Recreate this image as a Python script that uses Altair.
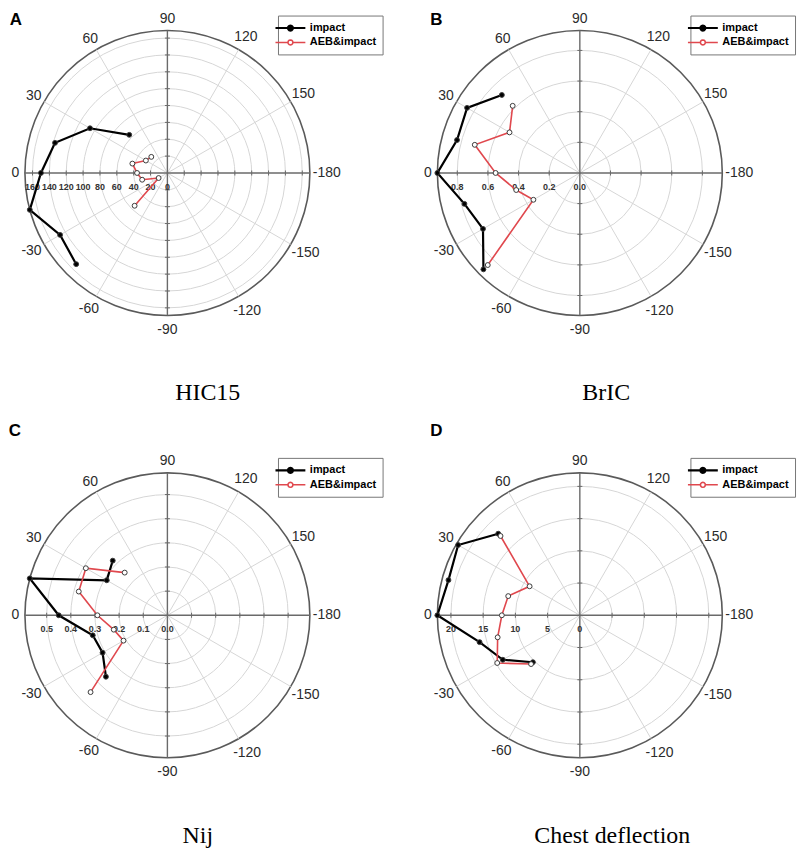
import altair as alt
import pandas as pd

# ---------------- data ----------------
ANGLES = [45, 30, 15, 0, -15, -30, -45]
SERIES = ["impact", "AEB&impact"]

HIC_IMPACT = [64, 106, 138, 150, 169, 147, 153]
HIC_AEB = [27, 29.5, 43, 36, 31, 12, 55]
BRIC_IMPACT = [0.72, 0.85, 0.83, 0.93, 0.78, 0.73, 0.89]
BRIC_AEB = [0.62, 0.53, 0.71, 0.55, 0.43, 0.35, 0.85]
NIJ_IMPACT = [0.32, 0.29, 0.59, 0.45, 0.32, 0.31, 0.36]
NIJ_AEB = [0.25, 0.39, 0.38, 0.29, 0.23, 0.21, 0.45]
CHEST_IMPACT = [17.9, 21.8, 21.1, 22.1, 16.1, 13.8, 10.3]
CHEST_AEB = [17.4, 9.0, 11.5, 12.1, 13.2, 14.8, 10.7]

ANGLE_TICKS = [0, 30, 60, 90, 120, 150, 180, -150, -120, -90, -60, -30]
ANGLE_TEXT = ["0", "30", "60", "90", "120", "150", "-180", "-150", "-120", "-90", "-60", "-30"]
SPOKES = [30, 60, 120, 150, 210, 240, 300, 330]
AXIS_DIRS = [0, 90, 180, 270]

HIC_RINGS = [20, 40, 60, 80, 100, 120, 140, 160]
HIC_RVALS = [0, 20, 40, 60, 80, 100, 120, 140, 160]
HIC_RTEXT = ["0", "20", "40", "60", "80", "100", "120", "140", "160"]
BRIC_RINGS = [0.2, 0.4, 0.6, 0.8]
BRIC_RVALS = [0, 0.2, 0.4, 0.6, 0.8]
BRIC_RTEXT = ["0.0", "0.2", "0.4", "0.6", "0.8"]
NIJ_RINGS = [0.1, 0.2, 0.3, 0.4, 0.5]
NIJ_RVALS = [0, 0.1, 0.2, 0.3, 0.4, 0.5]
NIJ_RTEXT = ["0.0", "0.1", "0.2", "0.3", "0.4", "0.5"]
CHEST_RINGS = [5, 10, 15, 20]
CHEST_RVALS = [0, 5, 10, 15, 20]
CHEST_RTEXT = ["0", "5", "10", "15", "20"]

HIC_MAX = 169
BRIC_MAX = 0.93
NIJ_MAX = 0.59
CHEST_MAX = 22.1

RED = "#e0484e"
RP = 143  # circle radius in px
# legend glyph: a line through a small 12-sided ring
SYMBOL = ("M-3,0L-0.5,0M0.5,0L3,0"
          "M0.5,0L0.433,0.25L0.25,0.433L0,0.5L-0.25,0.433L-0.433,0.25L-0.5,0"
          "L-0.433,-0.25L-0.25,-0.433L0,-0.5L0.25,-0.433L0.433,-0.25Z")

COS = "cos(datum.a*PI/180)"
SIN = "sin(datum.a*PI/180)"


def panel(letter, caption, impact, aeb, rmax, rings, rvals, rtext,
          W, H, CY, letter_xy, cap_x, cap_y, legend_y):
    CX = 160
    k = rmax / RP
    xs = alt.Scale(domain=[-CX * k, (W - CX) * k], nice=False, zero=False)
    ys = alt.Scale(domain=[(CY - H) * k, CY * k], nice=False, zero=False)
    xaxis = alt.Axis(title=caption, labels=False, ticks=False, domain=False, grid=False,
                     titleFont="Liberation Serif", titleFontSize=24, titleFontWeight="normal",
                     titleColor="black", titleX=cap_x, titleY=cap_y, titleAlign="center",
                     titleBaseline="alphabetic")
    yaxis = alt.Axis(title=letter, labels=False, ticks=False, domain=False, grid=False,
                     titleAngle=0, titleX=letter_xy[0], titleY=letter_xy[1],
                     titleAlign="center", titleBaseline="middle",
                     titleFont="Liberation Sans", titleFontSize=17, titleFontWeight="bold",
                     titleColor="black", minExtent=0)

    def X(f):
        return alt.X(f, type="quantitative", scale=xs, axis=xaxis)

    def Y(f):
        return alt.Y(f, type="quantitative", scale=ys, axis=yaxis)

    leg = alt.Legend(title=None, orient="none", legendX=271, legendY=legend_y,
                     symbolType=SYMBOL, symbolSize=100, symbolStrokeWidth=1.5,
                     labelFont="Liberation Sans", labelFontSize=11, labelFontWeight="bold",
                     labelColor="black", labelOffset=13, labelLimit=200,
                     strokeColor="#777777", padding=6, rowPadding=1, fillColor="white")

    series_df = pd.DataFrame({
        "a": ANGLES * 2,
        "r": list(impact) + list(aeb),
        "series": [SERIES[0]] * len(ANGLES) + [SERIES[1]] * len(ANGLES),
        "idx": list(range(len(ANGLES))) * 2,
    })
    ring_df = pd.DataFrame({"ring": rings})
    outer_df = pd.DataFrame({"ring": [rmax]})
    spoke_df = pd.DataFrame({"a": SPOKES})
    axis_df = pd.DataFrame({"a": AXIS_DIRS})
    tick_df = pd.DataFrame([{"a": a, "v": v} for a in AXIS_DIRS for v in rings])
    rlab_df = pd.DataFrame({"v": rvals, "t": rtext})
    alab_df = pd.DataFrame({"a": ANGLE_TICKS, "t": ANGLE_TEXT})

    # rings: circles centred on the pole, diameter from the radial value
    ring_layer = alt.Chart(ring_df).transform_calculate(
        cx="0", cy="0", sz=f"pow(2*datum.ring/{k}, 2)"
    ).mark_point(shape="circle", filled=False, color="#d6d6d6", strokeWidth=1, opacity=1
    ).encode(x=X("cx"), y=Y("cy"), size=alt.Size("sz:Q", scale=None, legend=None))

    outer_layer = alt.Chart(outer_df).transform_calculate(
        cx="0", cy="0", sz=f"pow(2*datum.ring/{k}, 2)"
    ).mark_point(shape="circle", filled=False, color="#5a5a5a", strokeWidth=1.6, opacity=1
    ).encode(x=X("cx"), y=Y("cy"), size=alt.Size("sz:Q", scale=None, legend=None))

    spoke_layer = alt.Chart(spoke_df).transform_calculate(
        x0="0", y0="0", x1=f"-{rmax}*{COS}", y1=f"{rmax}*{SIN}"
    ).mark_rule(color="#d6d6d6", strokeWidth=1).encode(
        x=X("x0"), y=Y("y0"), x2=alt.X2("x1:Q"), y2=alt.Y2("y1:Q"))

    axis_layer = alt.Chart(axis_df).transform_calculate(
        x0="0", y0="0", x1=f"-{rmax}*{COS}", y1=f"{rmax}*{SIN}"
    ).mark_rule(color="#6a6a6a", strokeWidth=1.4).encode(
        x=X("x0"), y=Y("y0"), x2=alt.X2("x1:Q"), y2=alt.Y2("y1:Q"))

    tick_base = alt.Chart(tick_df).transform_calculate(
        px=f"-datum.v*{COS}", py=f"datum.v*{SIN}")
    htick_layer = tick_base.transform_filter("datum.a == 0 || datum.a == 180").mark_tick(
        orient="vertical", size=5, thickness=1, color="#6a6a6a", opacity=1
    ).encode(x=X("px"), y=Y("py"))
    vtick_layer = tick_base.transform_filter("datum.a == 90 || datum.a == 270").mark_tick(
        orient="horizontal", size=5, thickness=1, color="#6a6a6a", opacity=1
    ).encode(x=X("px"), y=Y("py"))

    rlab_layer = alt.Chart(rlab_df).transform_calculate(px="-datum.v", py="0").mark_text(
        dy=14, fontSize=9, fontWeight="bold", color="#333333", font="Liberation Sans"
    ).encode(x=X("px"), y=Y("py"), text="t:N")

    alab_layer = alt.Chart(alab_df).transform_calculate(
        rho=f"(150 + 2.5*length(datum.t))*{k}"
    ).transform_calculate(
        px=f"-datum.rho*{COS}", py=f"datum.rho*{SIN}"
    ).mark_text(fontSize=14, color="#2b2b2b", font="Liberation Sans").encode(
        x=X("px"), y=Y("py"), text="t:N")

    sbase = alt.Chart(series_df).transform_calculate(
        px=f"-datum.r*{COS}", py=f"datum.r*{SIN}")
    line_layer = sbase.mark_line().encode(
        x=X("px"), y=Y("py"),
        stroke=alt.Stroke("series:N", scale=alt.Scale(domain=SERIES, range=["black", RED]),
                          legend=leg),
        strokeWidth=alt.StrokeWidth("series:N",
                                    scale=alt.Scale(domain=SERIES, range=[2.2, 1.6]),
                                    legend=None),
        order="idx:Q")
    point_layer = sbase.mark_point(shape="circle", size=24, stroke="#3c3c3c",
                                   strokeWidth=1, opacity=1).encode(
        x=X("px"), y=Y("py"),
        fill=alt.Fill("series:N", scale=alt.Scale(domain=SERIES, range=["black", "white"]),
                      legend=leg))

    return alt.layer(ring_layer, outer_layer, spoke_layer, axis_layer, htick_layer,
                     vtick_layer, rlab_layer, alab_layer, line_layer, point_layer
                     ).properties(width=W, height=H)


A = panel("A", "HIC15", HIC_IMPACT, HIC_AEB, HIC_MAX, HIC_RINGS, HIC_RVALS, HIC_RTEXT,
          400, 400, 160, (7.3, 5.5), 200, -13, 2)
B = panel("B", "BrIC", BRIC_IMPACT, BRIC_AEB, BRIC_MAX, BRIC_RINGS, BRIC_RVALS, BRIC_RTEXT,
          382, 400, 160, (15.5, 5.5), 186, -13, 2)
C = panel("C", "Nij", NIJ_IMPACT, NIJ_AEB, NIJ_MAX, NIJ_RINGS, NIJ_RVALS, NIJ_RTEXT,
          400, 424, 200, (6.5, 15), 190, 4, 42)
D = panel("D", "Chest deflection", CHEST_IMPACT, CHEST_AEB, CHEST_MAX, CHEST_RINGS,
          CHEST_RVALS, CHEST_RTEXT, 382, 424, 200, (15.5, 15), 192, 4, 42)

ind = dict(stroke="independent", fill="independent", strokeWidth="independent",
           size="independent", x="independent", y="independent")
chart = alt.concat(A, B, C, D, columns=2, spacing={"row": 4, "column": 14},
                   bounds="flush").resolve_scale(**ind).resolve_legend(
    stroke="independent", fill="independent").properties(padding=0).configure(
    font="Liberation Sans").configure_view(stroke="transparent", strokeWidth=0)

chart.save("out.html", embed_options={"renderer": "svg", "actions": False})
